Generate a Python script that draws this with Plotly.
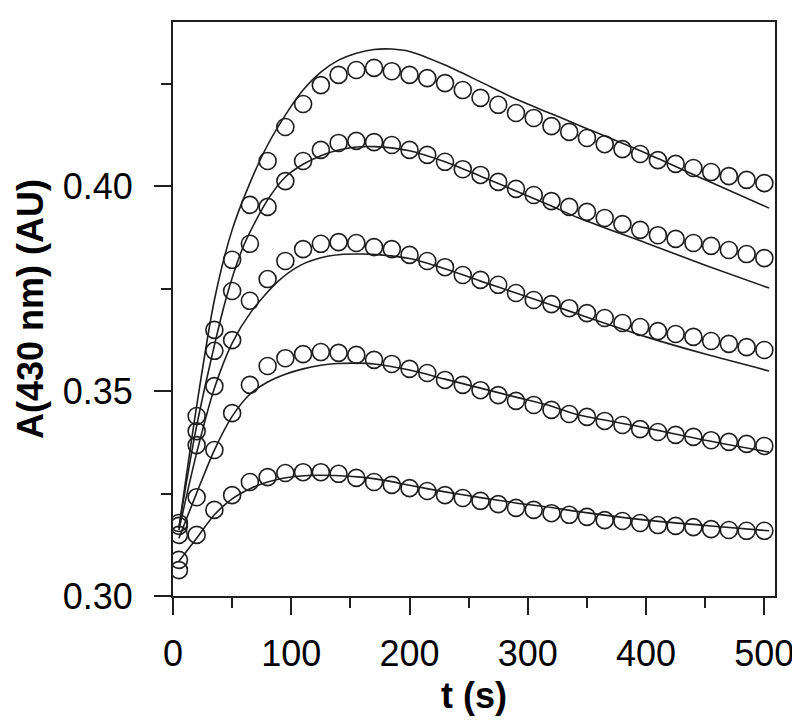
import plotly.graph_objects as go

# Time points of the measured data (s)
t_data = [5, 20, 35, 50, 65, 80, 95, 110, 125, 140, 155, 170, 185, 200, 215, 230, 245,
          260, 275, 290, 305, 320, 335, 350, 365, 380, 395, 410, 425, 440, 455, 470, 485, 500]

s1 = [0.3178, 0.3439, 0.3649, 0.3820, 0.3954, 0.4061, 0.4144, 0.4200, 0.4246, 0.4271, 0.4283,
      0.4288, 0.4280, 0.4271, 0.4263, 0.4251, 0.4234, 0.4215, 0.4198, 0.4178, 0.4166, 0.4146,
      0.4132, 0.4117, 0.4102, 0.4090, 0.4078, 0.4063, 0.4054, 0.4044, 0.4034, 0.4024, 0.4015, 0.4007]
s2 = [0.3171, 0.3402, 0.3598, 0.3744, 0.3859, 0.3949, 0.4012, 0.4061, 0.4088, 0.4105, 0.4110,
      0.4107, 0.4100, 0.4088, 0.4076, 0.4059, 0.4041, 0.4027, 0.4010, 0.3993, 0.3978, 0.3963,
      0.3949, 0.3937, 0.3922, 0.3907, 0.3893, 0.3880, 0.3871, 0.3861, 0.3854, 0.3844, 0.3834, 0.3824]
s3 = [0.3149, 0.3368, 0.3512, 0.3624, 0.3720, 0.3773, 0.3817, 0.3846, 0.3859, 0.3863, 0.3861,
      0.3851, 0.3846, 0.3832, 0.3817, 0.3802, 0.3783, 0.3771, 0.3759, 0.3739, 0.3722, 0.3712,
      0.3702, 0.3690, 0.3678, 0.3666, 0.3656, 0.3646, 0.3639, 0.3632, 0.3622, 0.3615, 0.3607, 0.3600]
s4 = [0.3088, 0.3241, 0.3356, 0.3446, 0.3515, 0.3561, 0.3580, 0.3590, 0.3595, 0.3593, 0.3588,
      0.3576, 0.3566, 0.3554, 0.3544, 0.3527, 0.3515, 0.3502, 0.3490, 0.3476, 0.3466, 0.3454,
      0.3444, 0.3437, 0.3427, 0.3417, 0.3407, 0.3400, 0.3393, 0.3388, 0.3380, 0.3376, 0.3371, 0.3366]
s5 = [0.3063, 0.3149, 0.3210, 0.3246, 0.3278, 0.3290, 0.3300, 0.3302, 0.3302, 0.3298, 0.3288,
      0.3278, 0.3271, 0.3263, 0.3256, 0.3246, 0.3239, 0.3232, 0.3224, 0.3215, 0.3210, 0.3202,
      0.3198, 0.3193, 0.3185, 0.3183, 0.3178, 0.3173, 0.3171, 0.3168, 0.3163, 0.3161, 0.3159, 0.3159]

# Fitted curves
fit1_t = [5, 20, 35, 50, 65, 80, 95, 110, 125, 140, 155, 170, 185, 200, 230, 260, 290, 320, 345, 400, 450, 504]
fit1_y = [0.3166, 0.3463, 0.3722, 0.3893, 0.4007, 0.4100, 0.4173, 0.4234, 0.4278, 0.4307, 0.4324,
          0.4333, 0.4334, 0.4328, 0.4295, 0.4254, 0.4212, 0.4176, 0.4146, 0.4080, 0.4015, 0.3946]
fit2_t = [5, 20, 45, 60, 80, 95, 110, 125, 140, 155, 170, 200, 230, 260, 290, 320, 343, 400, 450, 504]
fit2_y = [0.3166, 0.3415, 0.3727, 0.3856, 0.3966, 0.4022, 0.4053, 0.4074, 0.4088, 0.4095, 0.4096,
          0.4086, 0.4059, 0.4024, 0.3988, 0.3951, 0.3922, 0.3861, 0.3807, 0.3751]
fit3_t = [5, 20, 35, 50, 66, 89, 108, 125, 142, 159, 175, 200, 230, 260, 290, 320, 342, 400, 450, 504]
fit3_y = [0.3161, 0.3349, 0.3507, 0.3617, 0.3693, 0.3768, 0.3807, 0.3825, 0.3833, 0.3834, 0.3832,
          0.3823, 0.3798, 0.3768, 0.3739, 0.3710, 0.3688, 0.3632, 0.3590, 0.3549]
fit4_t = [5, 20, 35, 50, 65, 80, 95, 110, 125, 140, 155, 170, 200, 230, 260, 290, 320, 340, 400, 450, 504]
fit4_y = [0.3141, 0.3251, 0.3356, 0.3438, 0.3492, 0.3522, 0.3541, 0.3554, 0.3563, 0.3567, 0.3568,
          0.3566, 0.3551, 0.3529, 0.3507, 0.3485, 0.3463, 0.3444, 0.3410, 0.3380, 0.3351]
fit5_t = [5, 20, 35, 50, 66, 80, 94, 114, 137, 159, 185, 200, 230, 260, 290, 320, 340, 400, 450, 504]
fit5_y = [0.3085, 0.3141, 0.3198, 0.3237, 0.3263, 0.3278, 0.3288, 0.3294, 0.3294, 0.3290, 0.3279,
          0.3270, 0.3254, 0.3240, 0.3227, 0.3216, 0.3207, 0.3185, 0.3172, 0.3159]

x_ticks = [0, 100, 200, 300, 400, 500]
y_ticks = [0.30, 0.35, 0.40]
y_tick_labels = ["0.30", "0.35", "0.40"]

INK = "#1e1e1e"
FONT = "Liberation Sans, Arial, sans-serif"

fig = go.Figure()
for ft, fy in [(fit1_t, fit1_y), (fit2_t, fit2_y), (fit3_t, fit3_y), (fit4_t, fit4_y), (fit5_t, fit5_y)]:
    fig.add_trace(go.Scatter(x=ft, y=fy, mode="lines", line=dict(color=INK, width=1.6, shape="spline", smoothing=0.8),
                             showlegend=False, hoverinfo="skip"))
for s in [s1, s2, s3, s4, s5]:
    fig.add_trace(go.Scatter(x=t_data, y=s, mode="markers",
                             marker=dict(symbol="circle-open", size=17, color=INK, line=dict(width=1.6, color=INK)),
                             showlegend=False))

fig.update_layout(
    width=800, height=725,
    margin=dict(l=165, r=33, t=14, b=137, autoexpand=False),
    paper_bgcolor="white", plot_bgcolor="white",
    font=dict(family=FONT, color="black", size=36),
)
fig.update_xaxes(
    range=[0, 509], tickvals=x_ticks, ticks="outside", ticklen=17, tickwidth=2, tickcolor=INK,
    showline=True, linewidth=2, linecolor=INK, mirror=True, showgrid=False, zeroline=False,
    tickfont=dict(size=36, family=FONT), ticklabelstandoff=8, automargin=False,
    minor=dict(ticks="outside", ticklen=10, tickwidth=2, tickcolor=INK, dtick=50, showgrid=False),
    title=dict(text="<b>t (s)</b>", font=dict(size=36, family=FONT), standoff=10),
)
fig.update_yaxes(
    range=[0.30, 0.44], tickvals=y_ticks, ticktext=y_tick_labels, ticks="outside", ticklen=17, tickwidth=2,
    tickcolor=INK, showline=True, linewidth=2, linecolor=INK, mirror=True, showgrid=False, zeroline=False,
    tickfont=dict(size=36, family=FONT), ticklabelstandoff=14, automargin=False,
    minor=dict(ticks="outside", ticklen=10, tickwidth=2, tickcolor=INK, tickvals=[0.325, 0.375, 0.425], showgrid=False),
    title=dict(text="<b>A(430 nm) (AU)</b>", font=dict(size=36, family=FONT), standoff=8),
)

fig.write_html("out.html")
